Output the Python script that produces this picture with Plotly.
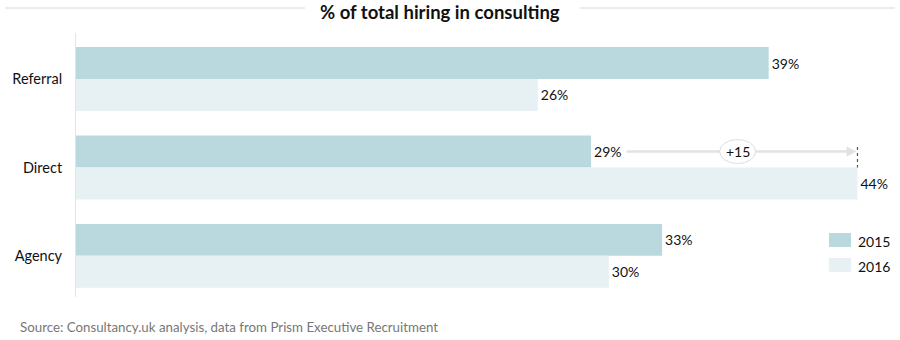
import plotly.graph_objects as go

categories = ["Referral", "Direct", "Agency"]
series_names = ["2015", "2016"]
values_2015 = [39, 29, 33]
values_2016 = [26, 44, 30]
colors = ["#b9d9df", "#e7f0f2"]
title = "% of total hiring in consulting"
source = "Source: Consultancy.uk analysis, data from Prism Executive Recruitment"

FONT = "Lato"

fig = go.Figure()
for name, vals, col in zip(series_names, [values_2015, values_2016], colors):
    fig.add_trace(go.Bar(
        y=categories, x=vals, name=name, orientation="h",
        marker=dict(color=col, line=dict(width=0)),
        text=[f"{v}%" for v in vals], textposition="outside",
        textfont=dict(family=FONT, size=14, color="#111"),
        cliponaxis=False, showlegend=False,
    ))

W, H = 900, 340
ml, mt, mb, mr = 76, 33, 43, 7
fig.update_layout(
    width=W, height=H, barmode="group", bargap=0.277, bargroupgap=0,
    margin=dict(l=ml, r=mr, t=mt, b=mb),
    plot_bgcolor="white", paper_bgcolor="white",
    font=dict(family=FONT, size=14, color="#111"),
    xaxis=dict(range=[0, 46], visible=False, fixedrange=True),
    yaxis=dict(range=[2.465, -0.52], showline=True, linecolor="#e4e4e4", linewidth=1,
               ticks="", showgrid=False, zeroline=False,
               tickfont=dict(family=FONT, size=14.5, color="#111"), ticklabelstandoff=10),
)

py = lambda p: 1 - (p - mt) / (H - mt - mb)
px = lambda p: (p - ml) / (W - ml - mr)

# title with side lines
fig.add_annotation(text=f"<b>{title}</b>", xref="paper", yref="paper",
                   x=px(440), y=py(12), showarrow=False,
                   font=dict(family=FONT, size=18.5, color="#111"),
                   yanchor="middle", xanchor="center")
fig.add_shape(type="line", xref="paper", yref="paper", x0=px(5), x1=px(305), y0=py(8), y1=py(8),
              line=dict(color="#d8d8d8", width=1))
fig.add_shape(type="line", xref="paper", yref="paper", x0=px(580), x1=px(895), y0=py(8), y1=py(8),
              line=dict(color="#d8d8d8", width=1))

# difference annotation on Direct
i = 1
a, b = values_2015[i], values_2016[i]
yl = i - 0.18
x_start = a + 2.0
fig.add_shape(type="line", xref="x", yref="y", x0=x_start, x1=b - 0.4, y0=yl, y1=yl,
              line=dict(color="#e2e2e2", width=2.5))
fig.add_annotation(x=b - 0.05, y=yl, ax=b - 0.6, ay=yl, xref="x", yref="y", axref="x", ayref="y",
                   showarrow=True, arrowhead=2, arrowsize=0.8, arrowwidth=2.5, arrowcolor="#e2e2e2", text="")
fig.add_shape(type="line", xref="x", yref="y", x0=b, x1=b, y0=yl - 0.05, y1=i + 0.0,
              line=dict(color="#555", width=1.2, dash="dot"))
mid = (x_start + b) / 2 - 0.25
fig.add_shape(type="circle", xref="x", yref="y", xsizemode="pixel", ysizemode="pixel",
              xanchor=mid, yanchor=yl, x0=-18, x1=18, y0=-12, y1=12,
              line=dict(color="#dddddd", width=1), fillcolor="white")
fig.add_annotation(x=mid, y=yl, xref="x", yref="y", text=f"+{b - a}", showarrow=False,
                   font=dict(family=FONT, size=14, color="#111"))

# legend
for k, (name, col) in enumerate(zip(series_names, colors)):
    yc = 240 + k * 25
    fig.add_shape(type="rect", xref="paper", yref="paper", x0=px(829), x1=px(851),
                  y0=py(yc - 7), y1=py(yc + 7), fillcolor=col, line=dict(width=0))
    fig.add_annotation(text=name, xref="paper", yref="paper", x=px(856), y=py(yc + 1),
                       xanchor="left", yanchor="middle", showarrow=False,
                       font=dict(family=FONT, size=14, color="#111"))

fig.add_annotation(text=source, xref="paper", yref="paper", x=px(18), y=py(327),
                   xanchor="left", yanchor="middle", showarrow=False,
                   font=dict(family=FONT, size=13.3, color="#777"))

fig.write_html("out.html")
